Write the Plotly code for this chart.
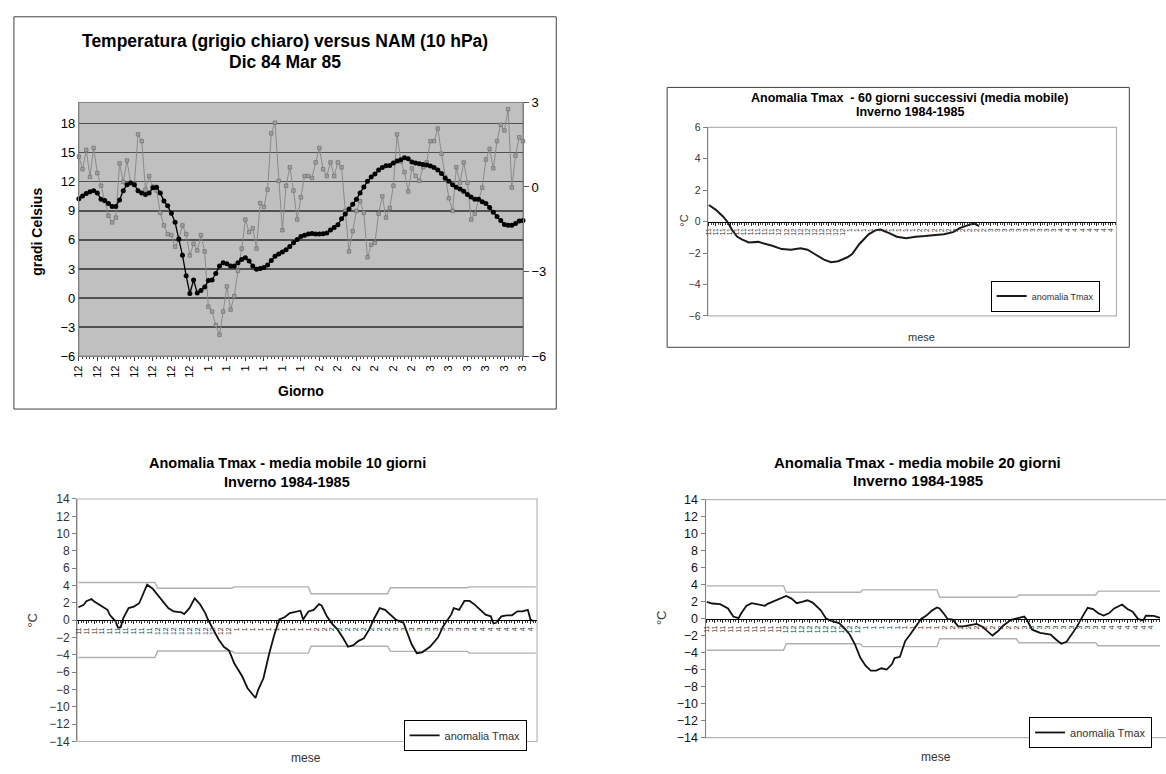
import plotly.graph_objects as go

W, H = 1166, 774
FONT = "Liberation Sans, Arial, sans-serif"

# ---------------- Chart 1: Temperatura vs NAM (Dic 84 - Mar 85), one value per day ----------------
temp_c = [14.6, 13.3, 15.3, 12.5, 15.5, 12.9, 11.6, 10.0, 8.5, 7.8,
          8.3, 13.9, 12.0, 14.2, 11.9, 11.8, 16.9, 16.2, 11.2, 12.6,
          11.5, 11.1, 8.8, 7.5, 6.6, 6.5, 5.3, 6.0, 7.5, 6.6,
          4.4, 5.6, 4.9, 6.5, 4.8, -0.9, -1.4, -2.8, -3.8, -1.4,
          1.2, -1.2, 0.2, 2.8, 5.1, 8.1, 6.8, 7.2, 5.1, 9.8,
          9.4, 11.2, 17.0, 18.1, 12.1, 7.0, 11.6, 13.5, 11.1, 8.1,
          10.4, 12.6, 12.6, 12.4, 14.0, 15.5, 13.3, 12.6, 14.0, 12.6,
          14.0, 13.5, 9.0, 4.8, 6.9, 9.0, 10.0, 8.8, 4.2, 5.5,
          5.7, 8.7, 10.5, 8.3, 9.3, 11.6, 16.9, 14.1, 13.0, 11.0,
          13.4, 12.6, 12.1, 13.5, 14.0, 16.2, 16.2, 17.5, 14.9, 12.5,
          10.3, 9.0, 13.5, 11.9, 14.0, 11.9, 8.1, 8.7, 10.2, 11.4,
          14.3, 15.4, 13.4, 16.2, 17.9, 17.3, 19.5, 11.4, 14.7, 16.6,
          16.2]
nam_10hpa = [-0.42, -0.32, -0.23, -0.17, -0.13, -0.21, -0.44, -0.48, -0.59, -0.69,
             -0.69, -0.46, -0.13, 0.08, 0.14, 0.08, -0.13, -0.21, -0.27, -0.21,
             -0.03, -0.01, -0.21, -0.50, -0.67, -0.93, -1.25, -1.85, -2.42, -3.15,
             -3.78, -3.30, -3.76, -3.67, -3.55, -3.32, -3.30, -3.07, -2.80, -2.69,
             -2.72, -2.80, -2.80, -2.69, -2.57, -2.51, -2.63, -2.80, -2.92, -2.89,
             -2.86, -2.77, -2.61, -2.46, -2.38, -2.31, -2.23, -2.11, -1.98, -1.86,
             -1.76, -1.71, -1.67, -1.65, -1.67, -1.67, -1.66, -1.63, -1.53, -1.44,
             -1.34, -1.13, -0.96, -0.78, -0.61, -0.44, -0.21, 0.00, 0.20, 0.35,
             0.46, 0.60, 0.69, 0.75, 0.76, 0.85, 0.92, 0.97, 1.04, 1.00,
             0.89, 0.85, 0.82, 0.80, 0.78, 0.74, 0.69, 0.60, 0.48, 0.31,
             0.20, 0.08, -0.01, -0.07, -0.15, -0.27, -0.36, -0.44, -0.44, -0.52,
             -0.59, -0.73, -0.90, -1.05, -1.19, -1.33, -1.36, -1.36, -1.30, -1.21,
             -1.19]
giorno_tick_labels = ['12'] * 7 + ['1'] * 6 + ['2'] * 6 + ['3'] * 6
giorno_tick_step = 5
temp_ticks = list(range(-6, 19, 3))
nam_ticks = [-6, -3, 0, 3]

# ---------------- Charts 2-4: category axis (month number of each day) ----------------
mese_names = ['11', '12', '1', '2', '3', '4']
mese_len = [30, 29, 29, 30, 30, 26]
mese_tick_step = 3

# 60-day moving anomaly
anom60_day = [0, 3, 6, 8, 10, 12, 14, 17, 21, 24, 27, 31, 35, 39, 42, 45, 49, 52, 55, 59,
              61, 64, 68, 71, 73, 77, 80, 84, 88, 92, 96, 100, 104, 107, 111, 113, 115]
anom60_val = [1.06, 0.75, 0.33, -0.04, -0.55, -0.95, -1.13, -1.33, -1.29, -1.40, -1.54, -1.75,
              -1.79, -1.69, -1.79, -2.06, -2.42, -2.58, -2.52, -2.27, -2.06, -1.44, -0.81,
              -0.54, -0.50, -0.75, -0.96, -1.06, -0.96, -0.92, -0.88, -0.81, -0.67, -0.40,
              -0.19, -0.13, -0.29]

# 10-day moving anomaly + monthly +/- bands
anom10_day = [0, 2, 3, 5, 6, 8, 9, 11, 12, 14, 15, 16, 17, 19, 21, 23, 24, 26, 28, 30,
              32, 34, 36, 39, 40, 42, 44, 46, 48, 49, 51, 53, 55, 57, 59, 62, 64, 66, 67, 68,
              70, 72, 74, 76, 78, 80, 82, 84, 85, 87, 89, 91, 92, 94, 96, 98, 100, 102, 104, 106,
              108, 110, 112, 114, 116, 118, 120, 123, 126, 128, 130, 133, 136, 138, 141, 142, 144, 146, 148, 150,
              152, 154, 156, 157, 158, 160, 162, 164, 166, 168, 170, 171, 172]
anom10_val = [1.5, 1.77, 2.2, 2.45, 2.15, 1.7, 1.58, 1.2, 0.57, -0.1, -0.87, -0.8, 0.26, 1.4, 1.58, 1.96, 2.7, 4.1, 3.66, 2.9,
              2.04, 1.4, 1.02, 0.9, 0.72, 1.4, 2.53, 1.85, 0.83, 0.08, -1.06, -2.19, -3.06, -3.5, -5.0, -6.5, -7.85, -8.6, -8.98, -8.04,
              -6.7, -4.08, -1.8, 0.08, 0.34, 0.83, 0.94, 1.1, 0.08, 1.02, 1.2, 1.85, 1.7, 0.45, -0.42, -1.06, -2.0, -3.06, -2.87, -2.38,
              -2.08, -1.06, 0.26, 1.4, 1.2, 0.64, 0.08, -0.3, -2.75, -3.8, -3.7, -3.06, -2.0, -0.68, 0.64, 1.4, 1.2, 2.23, 2.23, 1.77,
              1.2, 0.64, 0.45, -0.38, -0.3, 0.45, 0.57, 0.57, 1.02, 1.02, 1.2, 0.08, -0.1]
sd10_upper = [4.35, 3.7, 3.85, 3.05, 3.75, 3.85]
sd10_lower = [-4.3, -3.55, -3.8, -3.0, -3.6, -3.8]

# 20-day moving anomaly + monthly +/- bands
anom20_day = [0, 2, 5, 8, 10, 12, 13, 15, 17, 19, 22, 23, 26, 28, 29, 30, 32, 34, 36, 38,
              40, 43, 45, 47, 50, 52, 54, 56, 58, 60, 62, 64, 66, 68, 70, 71, 73, 75, 77, 79,
              81, 83, 85, 87, 88, 90, 91, 93, 95, 97, 100, 102, 104, 106, 108, 110, 112, 115, 118, 120,
              121, 123, 126, 128, 130, 132, 134, 136, 138, 140, 142, 144, 146, 148, 150, 152, 154, 157, 159, 161,
              163, 165, 166, 169, 171, 173]
anom20_val = [1.96, 1.77, 1.69, 1.19, 0.23, 0.04, 0.62, 1.5, 1.81, 1.65, 1.5, 1.73, 2.15, 2.35, 2.54, 2.65, 2.35, 1.81, 1.96, 2.15,
              1.88, 1.0, 0.04, -0.27, -0.54, -1.12, -1.88, -3.04, -4.58, -5.54, -6.12, -6.12, -5.85, -6.0, -5.35, -4.65, -4.5, -2.65, -1.81, -0.92,
              -0.04, 0.35, 0.92, 1.31, 1.19, 0.42, -0.04, -0.12, -0.92, -0.92, -0.73, -0.62, -0.92, -1.5, -2.0, -1.5, -0.85, -0.15, 0.04, 0.23,
              -0.15, -1.31, -1.69, -1.81, -1.88, -2.46, -2.96, -2.73, -1.88, -0.92, 0.23, 1.27, 1.12, 0.62, 0.35, 0.62, 1.19, 1.65, 1.12, 0.81,
              -0.04, -0.23, 0.35, 0.31, 0.12, 0.1]
sd20_upper = [3.85, 3.1, 3.38, 2.5, 2.77, 3.23]
sd20_lower = [-3.73, -2.96, -3.3, -2.38, -2.85, -3.19]

# ---------------- derived category structures ----------------
mese_cat = [m for m, n in zip(mese_names, mese_len) for _ in range(n)]
n_cat = len(mese_cat)
cat_idx = list(range(n_cat))
tick_idx = cat_idx[::mese_tick_step]
tick_txt = [mese_cat[i] for i in tick_idx]


def monthly(vals):
    return [v for v, n in zip(vals, mese_len) for _ in range(n)]


days1 = list(range(len(temp_c)))
tick1 = days1[::giorno_tick_step]


# ---------------- layout helpers (pixel -> paper) ----------------
def dx(x0, x1):
    return [x0 / W, min(x1 / W, 1.0)]


def dy(y_top, y_bot):
    return [1 - y_bot / H, 1 - y_top / H]


fig = go.Figure()

# Chart 1 traces
fig.add_trace(go.Scatter(x=days1, y=temp_c, mode='lines+markers', xaxis='x', yaxis='y',
                         line=dict(color='#8a8a8a', width=1),
                         marker=dict(symbol='square', size=3.5, color='#a0a0a0',
                                     line=dict(color='#666666', width=0.6)),
                         showlegend=False, cliponaxis=False))
fig.add_trace(go.Scatter(x=days1, y=nam_10hpa, mode='lines+markers', xaxis='x', yaxis='y2',
                         line=dict(color='black', width=1.3),
                         marker=dict(symbol='circle', size=5, color='black'),
                         showlegend=False, cliponaxis=False))

# Chart 2
fig.add_trace(go.Scatter(x=anom60_day, y=anom60_val, mode='lines', xaxis='x2', yaxis='y3',
                         line=dict(color='#1a1a1a', width=2), name='anomalia Tmax',
                         legend='legend'))

# Chart 3
fig.add_trace(go.Scatter(x=cat_idx, y=monthly(sd10_upper), mode='lines', xaxis='x3', yaxis='y4',
                         line=dict(color='#b0b0b0', width=1.4), showlegend=False))
fig.add_trace(go.Scatter(x=cat_idx, y=monthly(sd10_lower), mode='lines', xaxis='x3', yaxis='y4',
                         line=dict(color='#b0b0b0', width=1.4), showlegend=False))
fig.add_trace(go.Scatter(x=anom10_day, y=anom10_val, mode='lines', xaxis='x3', yaxis='y4',
                         line=dict(color='#111111', width=1.8), name='anomalia Tmax',
                         legend='legend2'))

# Chart 4
fig.add_trace(go.Scatter(x=cat_idx, y=monthly(sd20_upper), mode='lines', xaxis='x4', yaxis='y5',
                         line=dict(color='#b0b0b0', width=1.4), showlegend=False))
fig.add_trace(go.Scatter(x=cat_idx, y=monthly(sd20_lower), mode='lines', xaxis='x4', yaxis='y5',
                         line=dict(color='#b0b0b0', width=1.4), showlegend=False))
fig.add_trace(go.Scatter(x=anom20_day, y=anom20_val, mode='lines', xaxis='x4', yaxis='y5',
                         line=dict(color='#111111', width=1.8), name='anomalia Tmax',
                         legend='legend3'))

# ---------------- geometry ----------------
c1x, c1y = dx(73.6, 522.3), dy(97.3, 356)
c2x, c2y = dx(709, 1122), dy(122.7, 315)
c3x, c3y = dx(71.8, 536.6), dy(501.7, 749)
c4x, c4y = dx(706.8, 1166), dy(502.3, 745)
c4_full_px = 465.0
c4_range_end = -0.5 + n_cat * (1166 - 706.8) / c4_full_px
tick_idx4 = [i for i in tick_idx if i <= c4_range_end - 1.5]
tick_txt4 = [mese_cat[i] for i in tick_idx4]


def zero_pos(dom, lo, hi):
    return dom[0] + (0 - lo) / (hi - lo) * (dom[1] - dom[0])


def cat_xaxis(dom, pos, rng, fsize, tv, tt):
    return dict(domain=dom, anchor='free', position=pos, range=rng,
                tickmode='array', tickvals=tv, ticktext=tt, tickangle=-90,
                tickfont=dict(size=fsize, color='#333333'), ticks='outside', ticklen=3,
                tickcolor='#222', minor=dict(ticks='outside', ticklen=2, tickmode='linear',
                                             tick0=0, dtick=1, tickcolor='#444'),
                showline=True, linecolor='black', linewidth=1.2, showgrid=False, zeroline=False)


def val_yaxis(dom, anchor, rng, fsize, color='#333333'):
    return dict(domain=dom, anchor=anchor, range=rng, tickmode='linear', tick0=0, dtick=2,
                ticks='outside', ticklen=4, tickcolor='#808080', showline=True,
                linecolor='#808080', showgrid=False, zeroline=False,
                tickfont=dict(size=fsize, color=color))


legend_common = dict(bgcolor='white', bordercolor='black', borderwidth=1,
                     xanchor='right', yanchor='top', itemwidth=30,
                     tracegroupgap=0)

fig.update_layout(
    width=W, height=H, margin=dict(l=0, r=0, t=0, b=0),
    paper_bgcolor='white', plot_bgcolor='rgba(0,0,0,0)',
    font=dict(family=FONT, color='black'),
    xaxis=dict(domain=c1x, anchor='y', range=[0, len(temp_c) - 1], tickmode='array',
               tickvals=tick1, ticktext=giorno_tick_labels, tickangle=-90,
               tickfont=dict(size=11), ticks='outside', ticklen=4, tickcolor='#444',
               minor=dict(ticks='outside', ticklen=2, tickmode='linear', tick0=0, dtick=1,
                          tickcolor='#444'),
               showline=True, linecolor='#808080', showgrid=False, zeroline=False),
    yaxis=dict(domain=c1y, anchor='x', range=[-6, 20.2], tickmode='array', tickvals=temp_ticks,
               tickfont=dict(size=13), showgrid=True, gridcolor='#505050', gridwidth=1.3,
               zeroline=False, showline=True, linecolor='#808080', ticks=''),
    yaxis2=dict(overlaying='y', anchor='x', side='right', range=[-6, 3], tickmode='array',
                tickvals=nam_ticks, ticks='outside', ticklen=5, tickcolor='#555',
                showgrid=False, zeroline=False, showline=True, linecolor='#808080',
                tickfont=dict(size=13)),
    xaxis2=cat_xaxis(c2x, zero_pos(c2y, -6, 6), [-0.5, n_cat - 0.5], 6.5, tick_idx, tick_txt),
    yaxis3=val_yaxis(c2y, 'x2', [-6, 6], 10.5),
    xaxis3=cat_xaxis(c3x, zero_pos(c3y, -14, 14), [-0.5, n_cat - 0.5], 7, tick_idx, tick_txt),
    yaxis4=val_yaxis(c3y, 'x3', [-14, 14], 12),
    xaxis4=cat_xaxis(c4x, zero_pos(c4y, -14, 14), [-0.5, c4_range_end], 7, tick_idx4, tick_txt4),
    yaxis5=val_yaxis(c4y, 'x4', [-14, 14], 12.5, color='#111111'),
    legend=dict(x=1105 / W, y=1 - 279 / H, font=dict(size=9, color='#333'), **legend_common),
    legend2=dict(x=526 / W, y=1 - 727 / H, font=dict(size=11, color='#333'), **legend_common),
    legend3=dict(x=1158 / W, y=1 - 724 / H, font=dict(size=11, color='#333'), **legend_common),
)

# ---------------- shapes: backgrounds, plot-area borders, chart frames ----------------
shapes = []
shapes.append(dict(type='rect', xref='paper', yref='paper', x0=c1x[0], x1=c1x[1], y0=c1y[0], y1=c1y[1],
                   fillcolor='#c0c0c0', line=dict(width=0), layer='below'))
shapes.append(dict(type='rect', xref='paper', yref='paper', x0=c1x[0], x1=c1x[1], y0=c1y[0], y1=c1y[1],
                   line=dict(color='#808080', width=1), layer='below'))
for (x0, y0, x1, y1) in [(8, 10, 556, 410), (668, 82, 1135, 347)]:
    shapes.append(dict(type='rect', xref='paper', yref='paper', x0=x0 / W, x1=x1 / W,
                       y0=1 - y1 / H, y1=1 - y0 / H, line=dict(color='#404040', width=1),
                       layer='below'))
for dxs, dys in [(c2x, c2y), (c3x, c3y), (c4x, c4y)]:
    x1 = dxs[1] if dxs[1] < 1.0 else 1.02
    shapes.append(dict(type='rect', xref='paper', yref='paper', x0=dxs[0], x1=x1, y0=dys[0], y1=dys[1],
                       line=dict(color='#b4b4b4', width=1.2), layer='below'))
fig.update_layout(shapes=shapes)


# ---------------- texts ----------------
def text(x, y, s, size, bold=False, angle=0, color='black'):
    fig.add_annotation(x=x / W, y=1 - y / H, xref='paper', yref='paper',
                       text=f'<b>{s}</b>' if bold else s, showarrow=False,
                       font=dict(size=size, color=color, family=FONT), textangle=angle,
                       xanchor='center', yanchor='middle')


text(282, 35, 'Temperatura (grigio chiaro) versus NAM (10 hPa)', 17.5, bold=True)
text(282, 56, 'Dic 84 Mar 85', 17.5, bold=True)
text(30.5, 229, 'gradi Celsius', 14, bold=True, angle=-90)
text(298, 392, 'Giorno', 14, bold=True)

text(913, 93, 'Anomalia Tmax  - 60 giorni successivi (media mobile)', 12.5, bold=True)
text(913, 107, 'Inverno 1984-1985', 12.5, bold=True)
text(685, 218, '°C', 11, angle=-90, color='#333')
text(925, 337, 'mese', 11, color='#333')

text(284, 465, 'Anomalia Tmax - media mobile 10 giorni', 14.5, bold=True)
text(284, 484, 'Inverno 1984-1985', 14.5, bold=True)
text(27, 625, '°C', 13, angle=-90, color='#333')
text(303, 766, 'mese', 12, color='#333')

text(921, 464, 'Anomalia Tmax - media mobile 20 giorni', 15, bold=True)
text(921, 483, 'Inverno 1984-1985', 15, bold=True)
text(663, 623, '°C', 13, angle=-90, color='#333')
text(940, 765, 'mese', 12, color='#333')

fig.write_html('out.html',
               config={'displayModeBar': False, 'staticPlot': True},
               post_script="document.body.style.margin='0';document.body.style.padding='0';"
                           "document.documentElement.style.overflow='hidden';")
